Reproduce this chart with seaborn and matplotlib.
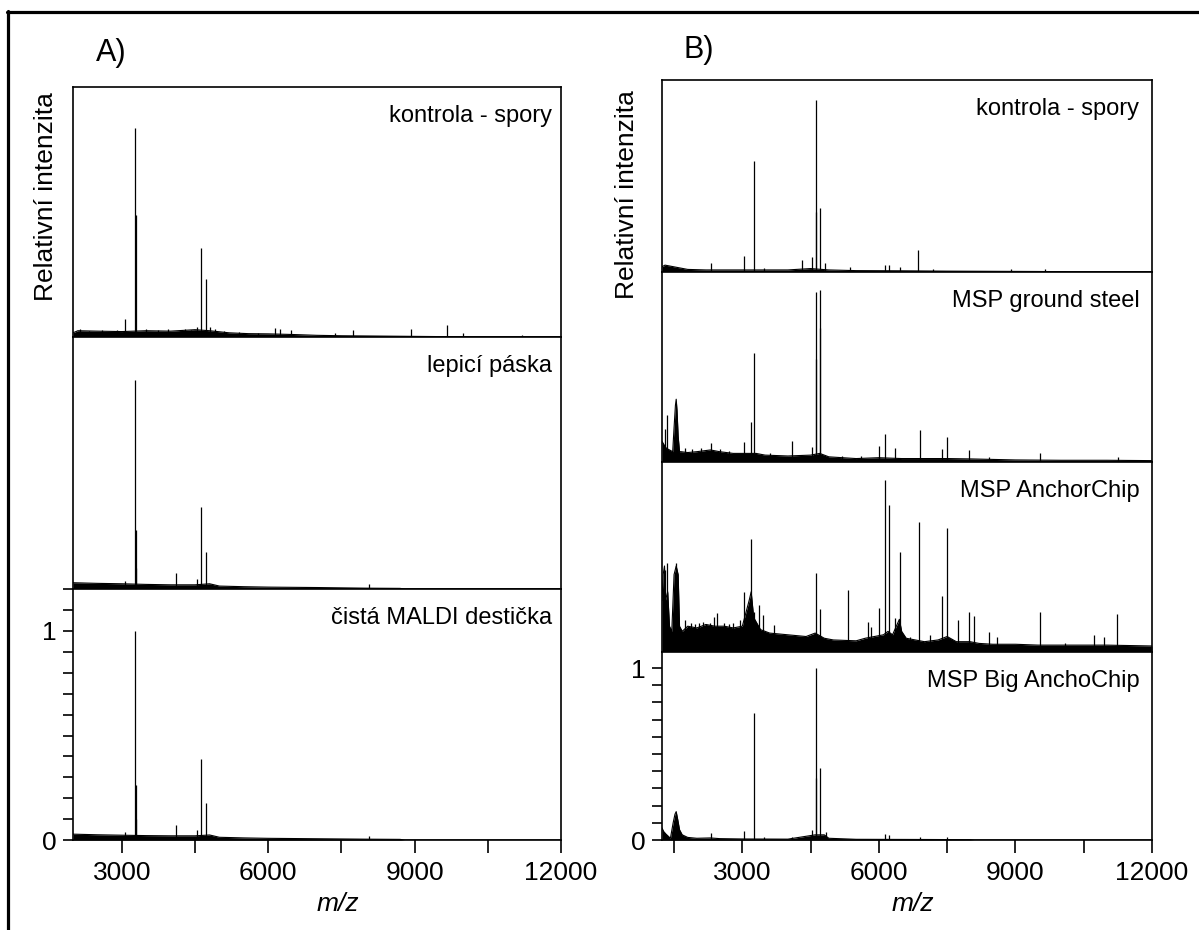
import numpy as np
import pandas as pd
import matplotlib.pyplot as plt
import seaborn as sns
from matplotlib.lines import Line2D
from matplotlib.ticker import FixedLocator, MultipleLocator

# ==========================================
# DATA
# ==========================================
# --- Panel A ---
a1_label = "kontrola - spory"
a1_peak_mz = [2150, 2330, 2600, 2900, 3066, 3280, 3290, 3500, 3750, 3950, 4187, 4300, 4422, 4539, 4633, 4727, 4800, 4900,
              5100, 5400, 5800, 6145, 6240, 6475, 7360, 7729, 8928, 9671, 9985, 11200]
a1_peak_h = [0.04, 0.03, 0.035, 0.035, 0.086, 1.0, 0.585, 0.04, 0.035, 0.04, 0.03, 0.04, 0.035, 0.05, 0.425, 0.276, 0.05, 0.04,
             0.03, 0.025, 0.02, 0.043, 0.04, 0.035, 0.02, 0.035, 0.04, 0.057, 0.02, 0.01]
a1_base_mz = [2000, 2100, 2500, 3000, 3500, 4000, 4500, 4800, 5200, 5600, 6000, 6500, 7000, 7500, 8000, 8500, 9000, 9500, 10000, 10500, 12000]
a1_base_h = [0.02, 0.03, 0.028, 0.026, 0.03, 0.028, 0.035, 0.03, 0.02, 0.016, 0.015, 0.012, 0.008, 0.006, 0.005, 0.004, 0.003, 0.002, 0.001, 0.0, 0.0]

a2_label = "lepicí páska"
a2_peak_mz = [3066, 3278, 3290, 3300, 4117, 4539, 4633, 4727, 8065]
a2_peak_h = [0.04, 1.0, 0.28, 0.1, 0.075, 0.05, 0.39, 0.175, 0.025]
a2_base_mz = [2000, 2500, 3000, 3500, 4000, 4500, 4800, 5000, 5500, 6000, 7000, 8000, 8700, 8800, 12000]
a2_base_h = [0.03, 0.027, 0.025, 0.022, 0.02, 0.02, 0.025, 0.014, 0.011, 0.009, 0.007, 0.004, 0.003, 0.0, 0.0]

a3_label = "čistá MALDI destička"
a3_peak_mz = [3066, 3278, 3290, 3300, 4117, 4539, 4633, 4727, 8065]
a3_peak_h = [0.038, 1.0, 0.263, 0.1, 0.072, 0.05, 0.388, 0.177, 0.02]
a3_base_mz = [2000, 2500, 3000, 3500, 4000, 4500, 4800, 5000, 5500, 6000, 7000, 8000, 8700, 8800, 12000]
a3_base_h = [0.028, 0.025, 0.023, 0.021, 0.02, 0.02, 0.024, 0.013, 0.01, 0.008, 0.006, 0.004, 0.003, 0.0, 0.0]

# --- Panel B ---
b1_label = "kontrola - spory"
b1_peak_mz = [2305, 3044, 3262, 3479, 4303, 4530, 4615, 4620, 4708, 4825, 5372, 6128, 6233, 6464, 6860, 7196, 8902, 9658]
b1_peak_h = [0.05, 0.095, 0.647, 0.025, 0.07, 0.087, 1.0, 0.35, 0.37, 0.05, 0.03, 0.04, 0.04, 0.03, 0.128, 0.02, 0.015, 0.02]
b1_base_mz = [1235, 1300, 1500, 1800, 2200, 3000, 4000, 4500, 4900, 5500, 6500, 7500, 8500, 9500, 10100, 10200, 12000]
b1_base_h = [0.03, 0.04, 0.03, 0.015, 0.012, 0.012, 0.012, 0.02, 0.012, 0.008, 0.007, 0.005, 0.004, 0.003, 0.002, 0.0, 0.0]

b2_label = "MSP ground steel"
b2_peak_mz = [1295, 1340, 1750, 1900, 2100, 2305, 2500, 2700, 3044, 3194, 3262, 3600, 4094, 4530, 4615, 4620, 4708, 4712,
              5200, 5600, 6002, 6128, 6363, 6893, 7389, 7502, 7977, 8423, 9537, 11243]
b2_peak_h = [0.19, 0.273, 0.08, 0.075, 0.08, 0.11, 0.075, 0.065, 0.118, 0.23, 0.632, 0.055, 0.122, 0.09, 0.987, 0.6, 1.0, 0.78,
             0.035, 0.035, 0.095, 0.163, 0.08, 0.186, 0.075, 0.147, 0.07, 0.03, 0.054, 0.03]
b2_base_mz = [1235, 1280, 1330, 1400, 1470, 1500, 1530, 1547, 1565, 1590, 1620, 1650, 1800, 2000, 2300, 2500, 2800, 3000, 3300, 3500, 4000,
              4500, 4700, 4900, 5500, 6000, 6500, 7000, 7500, 8000, 9000, 10000, 11000, 12000]
b2_base_h = [0.12, 0.1, 0.08, 0.07, 0.06, 0.2, 0.33, 0.365, 0.3, 0.15, 0.06, 0.06, 0.055, 0.06, 0.07, 0.06, 0.05, 0.05, 0.05, 0.04, 0.035,
             0.04, 0.05, 0.03, 0.02, 0.025, 0.02, 0.02, 0.02, 0.018, 0.012, 0.01, 0.01, 0.008]

b3_label = "MSP AnchorChip"
b3_peak_mz = [1301, 1352, 1536, 1741, 1880, 1960, 2050, 2130, 2210, 2290, 2378, 2451, 2600, 2700, 2800, 2950, 3038, 3198, 3264,
              3360, 3448, 3690, 4614, 4708, 5330, 5770, 5829, 5998, 6137, 6232, 6357, 6467, 6650, 6687, 6884, 7127,
              7384, 7494, 7728, 7970, 8094, 8424, 8593, 9529, 10079, 10716, 10951, 11237]
b3_peak_h = [0.477, 0.516, 0.516, 0.186, 0.17, 0.16, 0.17, 0.175, 0.165, 0.17, 0.205, 0.225, 0.17, 0.165, 0.17, 0.186, 0.35, 0.655, 0.234,
             0.273, 0.215, 0.157, 0.457, 0.25, 0.36, 0.173, 0.145, 0.254, 1.0, 0.855, 0.2, 0.58, 0.05, 0.087, 0.757, 0.1,
             0.326, 0.72, 0.186, 0.23, 0.21, 0.118, 0.087, 0.234, 0.05, 0.099, 0.089, 0.219]
b3_base_mz = [1235, 1260, 1290, 1310, 1360, 1400, 1450, 1500, 1547, 1590, 1620, 1680, 1800, 2000, 2200, 2400, 2600, 2800, 3000,
              3150, 3194, 3250, 3400, 3600, 4000, 4400, 4600, 4800, 5000, 5500, 5700, 5900, 6100, 6200, 6300, 6450, 6500, 6600,
              6800, 7000, 7300, 7500, 7700, 8000, 8200, 8500, 9000, 9500, 10000, 11000, 12000]
b3_base_h = [0.3, 0.45, 0.5, 0.3, 0.35, 0.15, 0.12, 0.45, 0.5, 0.45, 0.15, 0.12, 0.15, 0.14, 0.16, 0.15, 0.15, 0.14, 0.15,
             0.3, 0.35, 0.2, 0.13, 0.11, 0.1, 0.09, 0.11, 0.08, 0.07, 0.065, 0.08, 0.09, 0.1, 0.12, 0.1, 0.19, 0.12, 0.08,
             0.07, 0.06, 0.07, 0.09, 0.06, 0.06, 0.05, 0.045, 0.045, 0.04, 0.04, 0.04, 0.035]

b4_label = "MSP Big AnchoChip"
b4_peak_mz = [2305, 3044, 3262, 3479, 4094, 4530, 4615, 4620, 4708, 4833, 6128, 6233, 6893, 7502]
b4_peak_h = [0.04, 0.054, 0.74, 0.02, 0.015, 0.058, 1.0, 0.36, 0.42, 0.045, 0.035, 0.03, 0.02, 0.015]
b4_base_mz = [1235, 1270, 1320, 1380, 1420, 1480, 1520, 1547, 1580, 1620, 1680, 1800, 2000, 2300, 2500, 3000, 4000, 4600, 4800,
              4900, 5500, 7000, 8000, 8100, 12000]
b4_base_h = [0.07, 0.05, 0.035, 0.02, 0.01, 0.1, 0.15, 0.165, 0.12, 0.06, 0.03, 0.015, 0.01, 0.012, 0.008, 0.006, 0.005, 0.03, 0.03,
             0.01, 0.004, 0.003, 0.002, 0.0, 0.0]

panel_a = [(a1_label, a1_peak_mz, a1_peak_h, a1_base_mz, a1_base_h),
           (a2_label, a2_peak_mz, a2_peak_h, a2_base_mz, a2_base_h),
           (a3_label, a3_peak_mz, a3_peak_h, a3_base_mz, a3_base_h)]
panel_b = [(b1_label, b1_peak_mz, b1_peak_h, b1_base_mz, b1_base_h),
           (b2_label, b2_peak_mz, b2_peak_h, b2_base_mz, b2_base_h),
           (b3_label, b3_peak_mz, b3_peak_h, b3_base_mz, b3_base_h),
           (b4_label, b4_peak_mz, b4_peak_h, b4_base_mz, b4_base_h)]

# ==========================================
# STYLE / LAYOUT
# ==========================================
sns.set_style("ticks")
plt.rcParams['font.family'] = ['Liberation Sans', 'DejaVu Sans']
plt.rcParams['text.color'] = 'black'
plt.rcParams['axes.labelcolor'] = 'black'
plt.rcParams['xtick.color'] = 'black'
plt.rcParams['ytick.color'] = 'black'

W, H = 1199, 930
fig = plt.figure(figsize=(W / 100, H / 100), dpi=100)


def px_box(x0, x1, y0, y1):
    # pixel box (top-left origin) -> figure fraction rect
    return [x0 / W, 1 - y1 / H, (x1 - x0) / W, (y1 - y0) / H]


def draw_spectrum(ax, label, peak_mz, peak_h, base_mz, base_h, xlim, ylim, text_dx):
    base = pd.DataFrame({"mz": base_mz, "h": base_h})
    ax.fill_between(base["mz"], 0, base["h"], color="black", lw=0)
    sns.lineplot(data=base, x="mz", y="h", ax=ax, color="black", lw=0.8,
                 estimator=None, sort=False)
    ax.vlines(peak_mz, 0, peak_h, color="black", lw=0.9)
    ax.set_xlim(*xlim)
    ax.set_ylim(*ylim)
    ax.set_xlabel("")
    ax.set_ylabel("")
    for s in ax.spines.values():
        s.set_visible(True)
        s.set_linewidth(1.2)
        s.set_color("black")
    ax.annotate(label, xy=(1, 1), xycoords="axes fraction", xytext=(text_dx, -13),
                textcoords="offset points", ha="right", va="top", fontsize=17, color="black")


def style_bottom(ax, major_x, minor_x):
    ax.xaxis.set_major_locator(FixedLocator(major_x))
    ax.xaxis.set_minor_locator(FixedLocator(minor_x))
    ax.yaxis.set_major_locator(FixedLocator([0, 1]))
    ax.yaxis.set_minor_locator(MultipleLocator(0.1))
    ax.set_yticklabels(["0", "1"])
    ax.tick_params(axis="x", which="both", direction="out", length=9, width=1.2,
                   labelsize=19, pad=6, colors="black")
    ax.tick_params(axis="y", which="both", direction="out", length=7, width=1.2,
                   labelsize=19, pad=5, colors="black")


# Panel A: three stacked spectra
a_rows = [(87, 337), (337, 589), (589, 840)]
for i, (row, spec) in enumerate(zip(a_rows, panel_a)):
    ax = fig.add_axes(px_box(73, 561, row[0], row[1]))
    draw_spectrum(ax, *spec, xlim=(2000, 12000), ylim=(0, (row[1] - row[0]) / 209), text_dx=-6.5)
    if i == len(a_rows) - 1:
        style_bottom(ax, [3000, 6000, 9000, 12000], [4500, 7500, 10500])
    else:
        ax.set_xticks([])
        ax.set_yticks([])

# Panel B: four stacked spectra
b_rows = [(80, 272), (272, 462), (462, 652), (652, 840)]
for i, (row, spec) in enumerate(zip(b_rows, panel_b)):
    ax = fig.add_axes(px_box(662, 1152, row[0], row[1]))
    draw_spectrum(ax, *spec, xlim=(1235, 12000), ylim=(0, (row[1] - row[0]) / 172), text_dx=-9)
    if i == len(b_rows) - 1:
        style_bottom(ax, [3000, 6000, 9000, 12000], [1500, 4500, 7500, 10500])
    else:
        ax.set_xticks([])
        ax.set_yticks([])

# Texts
fig.text(96 / W, 1 - 53 / H, "A)", fontsize=22, ha="left", va="center")
fig.text(684 / W, 1 - 50 / H, "B)", fontsize=22, ha="left", va="center")
fig.text(46 / W, 1 - 197 / H, "Relativní intenzita", fontsize=19, rotation=90, ha="center", va="center")
fig.text(627 / W, 1 - 195 / H, "Relativní intenzita", fontsize=19, rotation=90, ha="center", va="center")
fig.text(338 / W, 1 - 904 / H, "m/z", fontsize=19, style="italic", ha="center", va="center")
fig.text(913 / W, 1 - 904 / H, "m/z", fontsize=19, style="italic", ha="center", va="center")

# Outer frame (top and left edge only)
fig.add_artist(Line2D([7 / W, 1], [1 - 12.5 / H, 1 - 12.5 / H], color="black", lw=2.3))
fig.add_artist(Line2D([8 / W, 8 / W], [0, 1 - 11.5 / H], color="black", lw=2.3))

fig.savefig("out.png", dpi=100)
